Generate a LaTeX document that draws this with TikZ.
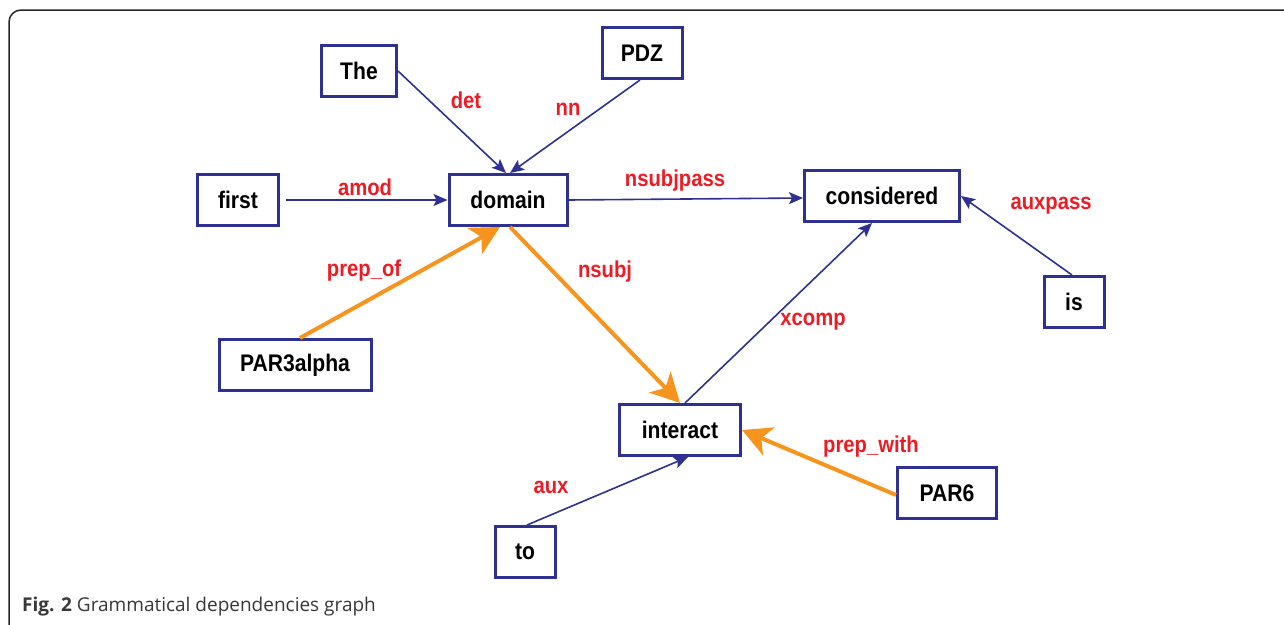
\documentclass[tikz,border=0pt]{standalone}
\usepackage{fontspec}
\usetikzlibrary{arrows.meta}
\newfontfamily\nodefont[FakeStretch=0.88]{Liberation Sans}
\newfontfamily\capfont{Open Sans}
\definecolor{boxblue}{RGB}{46,49,146}
\definecolor{edgeorange}{RGB}{247,148,29}
\definecolor{labred}{RGB}{237,28,36}
\definecolor{capgray}{RGB}{55,55,55}
\begin{document}
\begin{tikzpicture}[x=1pt,y=-1pt,
  word/.style={draw=boxblue,line width=3pt,fill=white,inner sep=0pt,
    font=\nodefont\bfseries\fontsize{24}{28}\selectfont,text=black,minimum height=51pt},
  lab/.style={font=\nodefont\bfseries\fontsize{23}{27}\selectfont,text=labred,inner sep=0pt},
  thin/.style={draw=boxblue,line width=1.6pt,-{Stealth[length=14pt,width=12pt,inset=3pt]}},
  thick/.style={draw=edgeorange,line width=4pt,-{Stealth[length=29pt,width=30pt,inset=8pt]}}]
\useasboundingbox (0,0) rectangle (1284,624);
\draw[line width=1.5pt,rounded corners=12pt,draw=black!85] (1295,10) -- (9,10) -- (9,635);
\node[word,minimum width=75pt] (the) at (359,71) {The};
\node[word,minimum width=80pt] (pdz) at (642,53) {PDZ};
\node[word,minimum width=81pt] (first) at (238,200) {first};
\node[word,minimum width=118pt] (domain) at (508,200) {domain};
\node[word,minimum width=155pt] (considered) at (882,196) {considered};
\node[word,minimum width=60pt] (is) at (1074,302) {is};
\node[word,minimum width=152pt] (par3) at (295,365) {PAR3alpha};
\node[word,minimum width=121pt] (interact) at (680,430) {interact};
\node[word,minimum width=99pt] (par6) at (947,493) {PAR6};
\node[word,minimum width=60pt] (to) at (525,552) {to};
\draw[thin] (the.east) -- ([xshift=-2pt]domain.north);
\draw[thin] ([xshift=-2pt]pdz.south) -- ([xshift=2pt]domain.north);
\draw[thin] ([xshift=6pt]first.east) -- (domain.west);
\draw[thin] (domain.east) -- ([yshift=-2pt]considered.west);
\draw[thin] ([xshift=-2pt]is.north) -- ([yshift=0pt]considered.east);
\draw[thin] ([xshift=5pt]interact.north) -- ([xshift=-10pt]considered.south);
\draw[thin] ([xshift=2pt]to.north) -- ([xshift=8pt]interact.south);
\draw[thick] ([xshift=5pt]par3.north) -- ([xshift=-8pt]domain.south);
\draw[thick] ([xshift=2pt]domain.south) -- ([xshift=0pt]interact.north);
\draw[thick] ([yshift=-2pt]par6.west) -- ([yshift=0pt]interact.east);
\node[lab] (ldet) at (466,100) {det};
\node[lab] (lnn) at (568,109) {nn};
\node[lab] (lamod) at (365,187) {amod};
\node[lab] (lnsubjpass) at (675,181) {nsubjpass};
\node[lab] (lauxpass) at (1051,206) {auxpass};
\node[lab] (lprepof) at (364,271) {prep\_of};
\node[lab] (lnsubj) at (605,272) {nsubj};
\node[lab] (lxcomp) at (813,322) {xcomp};
\node[lab] (lprepwith) at (871,447) {prep\_with};
\node[lab] (laux) at (551,487) {aux};
\node[anchor=base west,inner sep=0pt,text=capgray,font=\capfont\fontsize{19}{22}\selectfont] (cap) at (22,611) {\textbf{Fig. 2} Grammatical dependencies graph};
\end{tikzpicture}
\end{document}
